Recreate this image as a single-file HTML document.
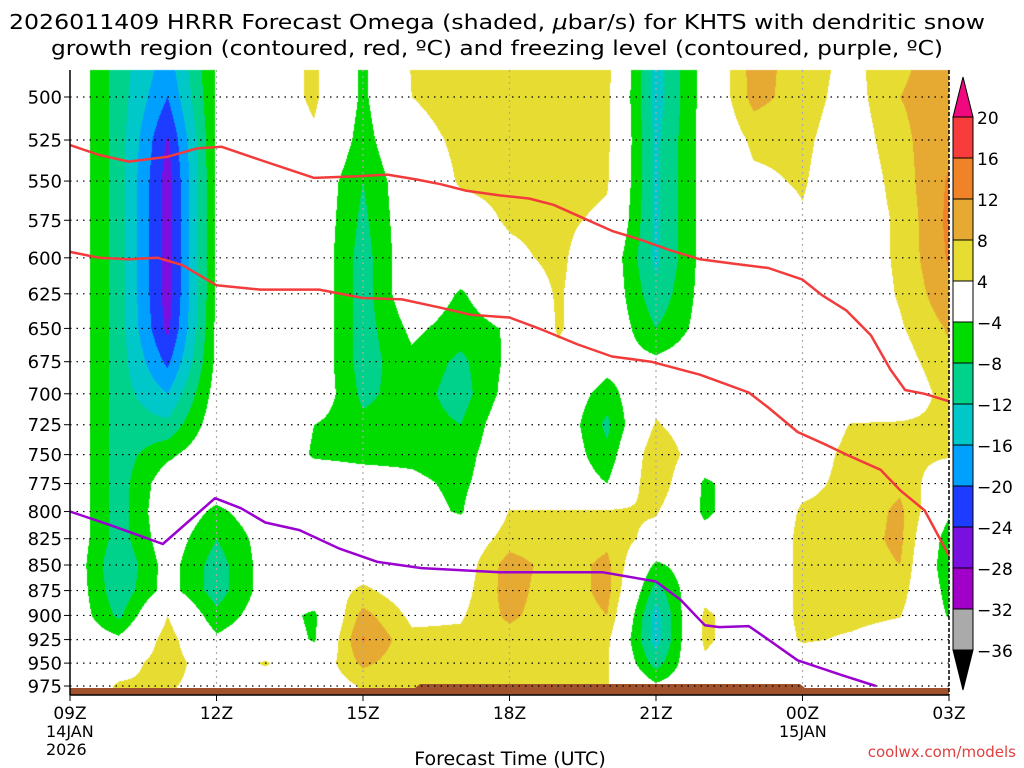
<!DOCTYPE html>
<html><head><meta charset="utf-8">
<style>
html,body{margin:0;padding:0;background:#fff;}
#wrap{position:relative;width:1024px;height:768px;overflow:hidden;}
canvas,svg{position:absolute;left:0;top:0;}
text{font-family:"DejaVu Sans","Liberation Sans",sans-serif;fill:#000;}
</style></head>
<body>
<div id="wrap">
<canvas id="shade" width="1024" height="768"></canvas>
<svg id="svg" width="1024" height="768"></svg>
</div>
<script>
// ---- data ----
const hours = [0,1,2,3,4,5,6,7,8,9,10,11,12,13,14,15,16,17,18];
const levels = [475,500,525,550,575,600,625,650,675,700,725,750,775,800,825,850,875,900,925,950,975];
// omega (μbar/s) per forecast hour column, one value per level
const omega = [
 [0,0,0,0,0,0,0,0,0,0,0,0,0,0,0,0,0,0,0,0,0],
 [-10,-10,-10,-10,-10,-10,-10,-10,-10,-10,-10,-10,-10,-10,-10,-12,-11,-9,-3,2,4.5],
 [-17,-20,-24.5,-26,-26,-26,-26,-25,-21,-16,-11,-5,-1,0,-1,-2,-2,4,6,6,4.5],
 [-3.5,-3.5,-3.5,-3.5,-3.5,-3.5,-3.5,-3,-3,-2,-1,0,-1,-5,-8,-10,-10,-7,-3,1,2],
 [0,0,0,0,0,0,0,0,0,0,0,0,0,-1,-2,-2,-2,-1,0,4.5,1],
 [5,5,3,0,0,0,0,0,0,0,-4,-4.5,-1,0,0,0,0,-5,-4.5,0,0],
 [-5,-5,-6,-8,-9,-10,-10,-10,-10,-9,-7,-5,-2,0,0,1,5,9.5,12.5,9,4.5],
 [4.5,4,2,0,0,0,0,-3,-5,-6,-6,-5,-3,-2,0,0,1,3,5,5,4.5],
 [7,6,5,4.5,2,-1,-4.5,-6,-9,-10,-8,-6,-5,-4.5,0,1,2,3.5,5,5,4.5],
 [7,6,6,5,4.5,3,0,-3.5,-3,-2,0,0,0,4.2,6,10,10,9,6,5,4.5],
 [7,6,6,6,5,5,4.5,4.5,3,0,0,0,0,4.2,5,6,5,5,5,5,4.5],
 [6,5,5,4.5,3,0,0,0,-2,-6,-9,-7,-4,4.5,7,9,9.5,8,5,4.5,4.2],
 [-14,-14,-13,-13,-13,-13,-11,-8,-3,2,4.5,8,8,4.5,2,-5,-10,-14,-14,-10,-3],
 [-2,-2,-2,-2,-2,-2,-2,-2,-1,0,0,0,-5,-5,-2,0,2,5,5,3,0],
 [10,9.5,5,3,0,0,0,0,0,0,0,0,0,0,0,0,0,0,0,0,0],
 [6,6,5,4.5,3.5,0,0,0,0,0,1,2,3,4.5,5,5,5,5,4.5,1,0],
 [3,2,1,0,0,0,0,0,0,0,4.2,5,5,5,6,6,6,5,3.5,1,0],
 [7,8,7,6,5,5,4.5,3.5,2,0,4.5,5,7,9,9,8,6,4.2,2,0,0],
 [10,10,11,12.5,13,12.5,11,8.5,7,6,5,4.5,0,-3,-7,-8,-6,-4.5,0,0,0]
];
const dgzUpperHours = [0,0.6,1.2,2,2.6,3.1,3.9,4.5,5,5.9,6.5,7.1,7.6,8.1,8.8,9.4,9.9,10.4,11.1,11.7,12.3,12.9,13.6,14.3,15,15.4,15.9,16.4,16.8,17.1,17.5,18];
const dgzUpperP = [528,534,538,535,530,529,537,543,548,547,546,549,552,556,559,561,565,572,582,588,595,601,604,607,615,626,637,655,681,697,700,706];
const dgzLowerHours = [0,0.6,1.2,1.8,2.3,3,3.9,5.1,6,6.8,7.6,8.2,9,9.6,10.4,11.1,11.9,12.9,13.9,14.3,14.9,15.5,15.9,16.6,17,17.5,18];
const dgzLowerP = [596,600,601,600,605,619,622,622,628,629,635,640,642,650,662,671,675,685,699,711,731,742,750,763,781,799,841];
const frzHours = [0,0.8,1.9,2.97,3.5,4,4.7,5.5,6.3,7.2,8.8,10,10.9,12,12.5,13,13.3,13.9,14.3,14.9,15.8,16.5];
const frzP = [800,812,830,788,797,810,817,834,847,853,857,857,857,866,884,910,912,911,925,947,963,975];
const yTicks = [500,525,550,575,600,625,650,675,700,725,750,775,800,825,850,875,900,925,950,975];
const xTickHours = [0,3,6,9,12,15,18];
const xTickLabels = ["09Z","12Z","15Z","18Z","21Z","00Z","03Z"];
const cbBounds = [20,16,12,8,4,-4,-8,-12,-16,-20,-24,-28,-32,-36];
const cbColors = ["#f83c3c","#f08228","#e6aa32","#e6dc32","#ffffff","#00dc00","#00d28c","#00c8c8","#00a0ff","#1e3cff","#7a10e0","#a000c8","#aaaaaa"];

// ---- axes ----
const X0=70, X1=949, YTOP=70, YBOT=695;
const xOf = h => X0 + h*(X1-X0)/18;
const yOf = p => 97 + 882*Math.log(p/500);
const pOfY = y => 500*Math.exp((y-97)/882);

function colorFor(v){
  if (v>=20) return "#f0087f";
  if (v<-36) return "#000000";
  for (let i=0;i<cbBounds.length-1;i++){
    if (v<cbBounds[i] && v>=cbBounds[i+1]) return cbColors[i];
  }
  return "#ffffff";
}
function hexRgb(h){return [parseInt(h.substr(1,2),16),parseInt(h.substr(3,2),16),parseInt(h.substr(5,2),16)];}
function valueAt(h,p){
  let i=Math.floor(h); if(i<0)i=0; if(i>hours.length-2)i=hours.length-2;
  const fx=Math.min(1,Math.max(0,h-i));
  let j=0; while(j<levels.length-2 && p>levels[j+1]) j++;
  const fy=Math.min(1,Math.max(0,(p-levels[j])/(levels[j+1]-levels[j])));
  const a=omega[i][j], b=omega[i+1][j], c=omega[i][j+1], d=omega[i+1][j+1];
  return a*(1-fx)*(1-fy)+b*fx*(1-fy)+c*(1-fx)*fy+d*fx*fy;
}
// ---- shading ----
const cv=document.getElementById('shade');
const ctx=cv.getContext('2d');
const W=X1-X0, H=690-YTOP;
const img=ctx.createImageData(W,H);
for(let y=0;y<H;y++){
  const p=pOfY(YTOP+y+0.5);
  for(let x=0;x<W;x++){
    const h=(x+0.5)/(X1-X0)*18;
    const rgb=hexRgb(colorFor(valueAt(h,p)));
    const k=(y*W+x)*4;
    img.data[k]=rgb[0];img.data[k+1]=rgb[1];img.data[k+2]=rgb[2];img.data[k+3]=255;
  }
}
ctx.putImageData(img,X0,YTOP);

// ---- svg ----
const NS="http://www.w3.org/2000/svg";
const svg=document.getElementById('svg');
function el(tag,attrs,parent){const e=document.createElementNS(NS,tag);for(const k in attrs)e.setAttribute(k,attrs[k]);(parent||svg).appendChild(e);return e;}

// ground
const ground=el('path',{d:`M${X0} 688 L415 688 L420 684 L800 684 L805 688 L${X1} 688 L${X1} 695 L${X0} 695 Z`,fill:'#a0522d'});



// grid
yTicks.forEach(p=>{
  const y=yOf(p);
  const g=el('line',{x1:X0,x2:X1,y1:y,y2:y,stroke:'#000','stroke-width':1.2,'stroke-dasharray':'1.5 5'});
  
  
  const t=el('line',{x1:X0-6,x2:X0,y1:y,y2:y,stroke:'#000','stroke-width':1});
  
  
  const lb=el('text',{x:62,y:y+6.5,'text-anchor':'end','font-size':18});
  lb.textContent=p;
  
  
});
xTickHours.forEach((h,i)=>{
  const x=xOf(h);
  if(i>0 && i<xTickHours.length-1){
    const g=el('line',{x1:x,x2:x,y1:YTOP,y2:688,stroke:'#aaa','stroke-width':1.2,'stroke-dasharray':'2 4'});
    
    
  }
  const t=el('line',{x1:x,x2:x,y1:YBOT,y2:YBOT+6,stroke:'#000'});
  
  
  const lb=el('text',{x:x,y:719,'text-anchor':'middle','font-size':17});
  lb.textContent=xTickLabels[i];
  
  
});
[["14JAN",70,737],["2026",70,755],["15JAN",803,737]].forEach(a=>{
  const lb=el('text',{x:a[1]-24,y:a[2],'font-size':16});
  lb.textContent=a[0];
  
  
});

// lines
function polyline(hs,ps,color,name){
  const pts=hs.map((h,i)=>xOf(h).toFixed(1)+','+yOf(ps[i]).toFixed(1)).join(' ');
  const l=el('polyline',{points:pts,fill:'none',stroke:color,'stroke-width':2.5,'stroke-linejoin':'round'});
  
  
}
polyline(dgzUpperHours,dgzUpperP,'#f23c3c','dgz-upper-contour');
polyline(dgzLowerHours,dgzLowerP,'#f23c3c','dgz-lower-contour');
polyline(frzHours,frzP,'#9a00d0','freezing-level-contour');

// frame
const lf=el('line',{x1:X0,x2:X0,y1:YTOP,y2:YBOT,stroke:'#000','stroke-width':1.5});


const bf=el('line',{x1:X0,x2:X1,y1:YBOT,y2:YBOT,stroke:'#000','stroke-width':1.5});


const rf=el('line',{x1:X1,x2:X1,y1:YTOP,y2:YBOT,stroke:'#000','stroke-width':1.5,'stroke-dasharray':'4 2'});



// colorbar
const CBX=953, CBW=20, CBT=117, CBH=41;
cbColors.forEach((c,i)=>{
  const r=el('rect',{x:CBX,y:CBT+i*CBH,width:CBW,height:CBH,fill:c,stroke:'#000','stroke-width':1});
  
  
});
cbBounds.forEach((b,i)=>{
  const lb=el('text',{x:977,y:CBT+i*CBH+7,'font-size':17});
  lb.textContent=b<0?'\u2212'+(-b):String(b);
  
  
});
const tt=el('path',{d:`M${CBX} ${CBT} L${CBX+CBW/2} 77 L${CBX+CBW} ${CBT} Z`,fill:'#f0087f',stroke:'#000'});


const bt=el('path',{d:`M${CBX} 650 L${CBX+CBW/2} 690 L${CBX+CBW} 650 Z`,fill:'#000',stroke:'#000'});


</script>
<svg width="1024" height="768" style="position:absolute;left:0;top:0;pointer-events:none">
<text x="497" y="29" text-anchor="middle" font-size="20" textLength="976" lengthAdjust="spacingAndGlyphs">2026011409 HRRR Forecast Omega (shaded, <tspan font-style="italic">μ</tspan>bar/s) for KHTS with dendritic snow</text>
<text x="497" y="55" text-anchor="middle" font-size="20" textLength="892" lengthAdjust="spacingAndGlyphs">growth region (contoured, red, ºC) and freezing level (contoured, purple, ºC)</text>
<text x="510" y="765" text-anchor="middle" font-size="19">Forecast Time (UTC)</text>
<text x="1016" y="757" text-anchor="end" font-size="15" style="fill:#e04040">coolwx.com/models</text>
</svg>
</body></html>
